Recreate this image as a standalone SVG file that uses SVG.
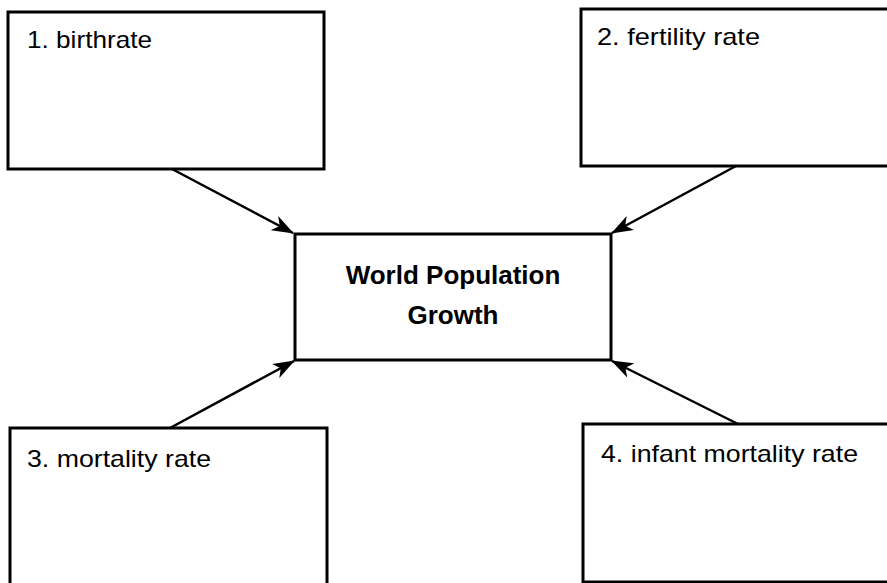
<svg xmlns="http://www.w3.org/2000/svg" width="887" height="583" viewBox="0 0 887 583">
<style>
.box{fill:#fff;stroke:#000;stroke-width:3}
.lbl{font-family:"Liberation Sans",Arial,sans-serif;font-size:24px;fill:#000}
.ttl{font-family:"Liberation Sans",Arial,sans-serif;font-size:26px;font-weight:bold;fill:#000;text-anchor:middle}
.conn{stroke:#000;stroke-width:2.5;fill:none;marker-end:url(#ah)}
</style>
<defs>
<marker id="ah" viewBox="0 0 22 16" refX="21" refY="8" markerWidth="22" markerHeight="16" markerUnits="userSpaceOnUse" orient="auto">
<path d="M0,0 L22,8 L0,16 L6,8 Z" fill="#000"/>
</marker>
</defs>
<rect width="887" height="583" fill="#fff"/>
<g id="connectors">
<line class="conn" x1="172" y1="169" x2="293" y2="233"/>
<line class="conn" x1="736" y1="166" x2="612" y2="233"/>
<line class="conn" x1="170" y1="428" x2="294" y2="361"/>
<line class="conn" x1="738" y1="424" x2="612" y2="361"/>
</g>
<g id="n1">
<rect class="box" x="8" y="12" width="316" height="157"/>
<text class="lbl" x="27" y="48" textLength="125" lengthAdjust="spacingAndGlyphs">1. birthrate</text>
</g>
<g id="n2">
<rect class="box" x="581" y="9" width="320" height="157"/>
<text class="lbl" x="597" y="45" textLength="163" lengthAdjust="spacingAndGlyphs">2. fertility rate</text>
</g>
<g id="center">
<rect class="box" x="295" y="234" width="316" height="126"/>
<text class="ttl" x="453" y="284">World Population</text>
<text class="ttl" x="453" y="324">Growth</text>
</g>
<g id="n3">
<rect class="box" x="10" y="428" width="317" height="170"/>
<text class="lbl" x="27" y="467" textLength="184" lengthAdjust="spacingAndGlyphs">3. mortality rate</text>
</g>
<g id="n4">
<rect class="box" x="583" y="424" width="320" height="158"/>
<text class="lbl" x="601" y="462" textLength="257" lengthAdjust="spacingAndGlyphs">4. infant mortality rate</text>
</g>
</svg>
